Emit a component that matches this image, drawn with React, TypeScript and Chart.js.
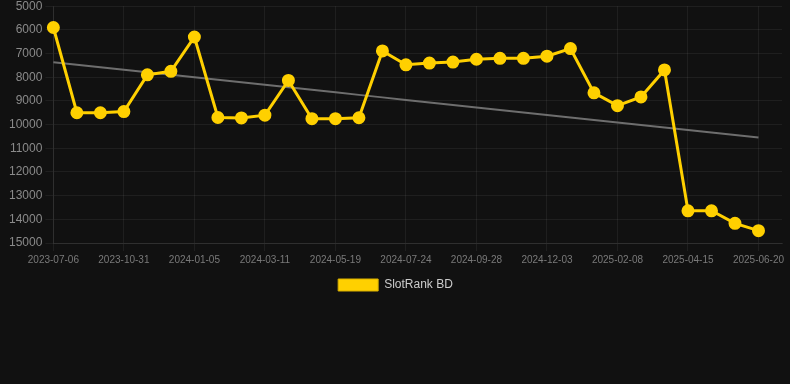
import React, { useEffect, useRef } from "react";
import { Chart, registerables } from "chart.js";

Chart.register(...registerables);

const dateLabels: string[] = [
  "2023-07-06", "2023-08-20", "2023-09-25",
  "2023-10-31", "2023-11-22", "2023-12-14",
  "2024-01-05", "2024-01-27", "2024-02-18",
  "2024-03-11", "2024-04-03", "2024-04-26",
  "2024-05-19", "2024-06-10", "2024-07-02",
  "2024-07-24", "2024-08-15", "2024-09-06",
  "2024-09-28", "2024-10-20", "2024-11-11",
  "2024-12-03", "2024-12-25", "2025-01-17",
  "2025-02-08", "2025-03-02", "2025-03-24",
  "2025-04-15", "2025-05-07", "2025-05-29",
  "2025-06-20", "2025-07-12",
];

const rankValues: (number | null)[] = [
  5900, 9500, 9500, 9450, 7900, 7750, 6300, 9700, 9720, 9600,
  8135, 9750, 9750, 9710, 6890, 7475, 7400, 7360, 7240, 7200,
  7200, 7110, 6790, 8660, 9200, 8830, 7690, 13640, 13640, 14170,
  14480, null,
];

const seriesName = "SlotRank BD";
const yMin = 5000;
const yMax = 15000;
const yStep = 1000;

function trendValues(vals: (number | null)[]): (number | null)[] {
  const pts: [number, number][] = [];
  vals.forEach((v, i) => {
    if (v !== null) pts.push([i, v]);
  });
  const n = pts.length;
  const sx = pts.reduce((a, p) => a + p[0], 0);
  const sy = pts.reduce((a, p) => a + p[1], 0);
  const sxx = pts.reduce((a, p) => a + p[0] * p[0], 0);
  const sxy = pts.reduce((a, p) => a + p[0] * p[1], 0);
  const slope = (n * sxy - sx * sy) / (n * sxx - sx * sx);
  const icpt = (sy - slope * sx) / n;
  const first = pts[0][0];
  const last = pts[n - 1][0];
  return vals.map((_, i) => (i >= first && i <= last ? icpt + slope * i : null));
}

export default function App() {
  const ref = useRef<HTMLCanvasElement | null>(null);

  useEffect(() => {
    document.body.style.margin = "0";
    document.body.style.background = "#111111";
    const canvas = ref.current;
    if (!canvas) return;
    const font = "'Liberation Sans', Arial, Helvetica, sans-serif";
    const chart = new Chart(canvas, {
      type: "line",
      data: {
        labels: dateLabels,
        datasets: [
          {
            label: seriesName,
            data: rankValues,
            borderColor: "#FFD000",
            backgroundColor: "#FFD000",
            borderWidth: 3,
            pointRadius: 5,
            pointHoverRadius: 5,
            pointBackgroundColor: "#FFD000",
            pointBorderColor: "#FFD000",
            tension: 0,
            order: 1,
          },
          {
            label: "trend",
            data: trendValues(rankValues),
            borderColor: "#6e6e6e",
            backgroundColor: "#6e6e6e",
            borderWidth: 2,
            pointRadius: 0,
            tension: 0,
            order: 2,
          },
        ],
      },
      options: {
        animation: false,
        responsive: true,
        maintainAspectRatio: false,
        layout: { padding: { left: 6, right: 5, top: 0, bottom: 0 } },
        plugins: {
          tooltip: { enabled: false },
          legend: {
            display: true,
            position: "bottom",
            labels: {
              color: "#cccccc",
              boxWidth: 40,
              boxHeight: 12,
              font: { family: font, size: 12 },
              generateLabels: (c) =>
                Chart.defaults.plugins.legend.labels
                  .generateLabels(c)
                  .filter((item) => item.text === seriesName)
                  .map((item) => ({ ...item, lineWidth: 1, strokeStyle: "#d9b000" })),
            },
          },
        },
        scales: {
          x: {
            type: "category",
            offset: false,
            grid: {
              color: (ctx) => (ctx.index % 3 === 0 ? "rgba(255,255,255,0.06)" : "rgba(0,0,0,0)"),
              tickColor: (ctx) => (ctx.index % 3 === 0 ? "rgba(255,255,255,0.06)" : "rgba(0,0,0,0)"),
            },
            border: { color: "rgba(255,255,255,0.08)" },
            ticks: {
              autoSkip: false,
              maxRotation: 0,
              minRotation: 0,
              color: "#7a7a7a",
              font: { family: font, size: 10 },
              callback: (_v, i) => (i % 3 === 0 ? dateLabels[i] : ""),
            },
          },
          y: {
            reverse: true,
            min: yMin,
            max: yMax,
            grid: { color: "rgba(255,255,255,0.06)" },
            border: { color: "rgba(255,255,255,0.08)" },
            ticks: {
              stepSize: yStep,
              color: "#8a8a8a",
              font: { family: font, size: 12 },
              callback: (v) => String(v),
            },
          },
        },
      },
    });
    return () => chart.destroy();
  }, []);

  return (
    <div style={{ width: 790, height: 305, position: "relative", top: -4, background: "#111111" }}>
      <canvas ref={ref} />
    </div>
  );
}
